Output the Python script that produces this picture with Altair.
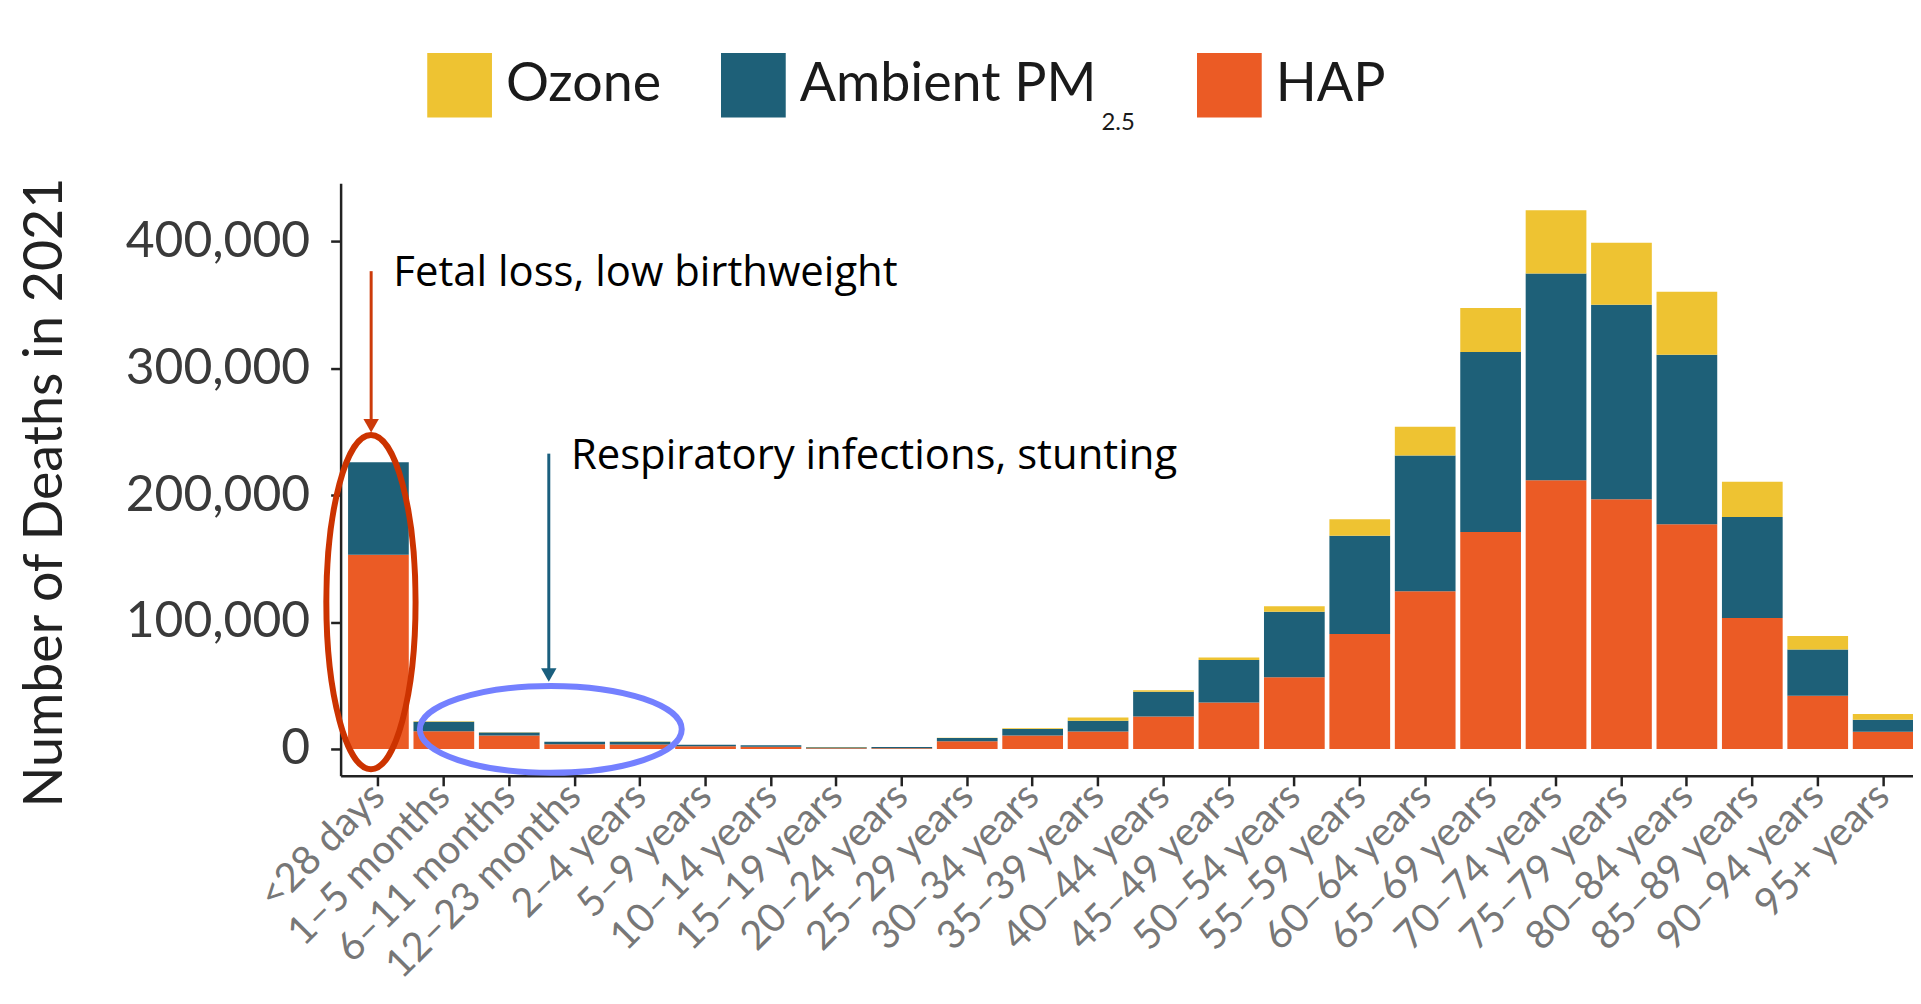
import altair as alt
import pandas as pd

# ---------------- data ----------------
categories = ["<28 days", "1–5 months", "6–11 months", "12–23 months", "2–4 years",
              "5–9 years", "10–14 years", "15–19 years", "20–24 years", "25–29 years",
              "30–34 years", "35–39 years", "40–44 years", "45–49 years", "50–54 years",
              "55–59 years", "60–64 years", "65–69 years", "70–74 years", "75–79 years",
              "80–84 years", "85–89 years", "90–94 years", "95+ years"]

hap = [153000, 14000, 10500, 3600, 3500, 2000, 1800, 600, 600, 6000,
       10500, 13800, 25600, 36600, 56500, 90500, 124300, 171000, 211800, 196700,
       177100, 103100, 41800, 13600]
ambient = [73000, 7500, 2500, 2000, 2200, 1200, 1000, 800, 900, 2500,
           5200, 8400, 19400, 33500, 51500, 77500, 107000, 141800, 162900, 153300,
           133600, 79700, 36600, 9400]
ozone = [0, 300, 100, 100, 100, 100, 100, 100, 100, 300,
         500, 2500, 1300, 2000, 4500, 13000, 22600, 34700, 49800, 48800,
         49500, 27700, 10500, 4500]

series_names = ["Ozone", "Ambient PM", "HAP"]
series_colors = ["#EEC332", "#1E6078", "#EB5B25"]
y_ticks = [0, 100000, 200000, 300000, 400000]

# annotations
ann_texts = ["Fetal loss, low birthweight", "Respiratory infections, stunting"]
ann_cats = ["<28 days", "12–23 months"]
ann_text_y = [364700, 220900]
arrow_top = [376500, 232700]
arrow_end = [256000, 60000]
arrow_head = [254700, 58200]
ellipse_y = [115700, 15400]

rows = []
for i, c in enumerate(categories):
    rows.append({"cat": c, "series": "HAP", "value": hap[i], "ord": 0})
    rows.append({"cat": c, "series": "Ambient PM", "value": ambient[i], "ord": 1})
    rows.append({"cat": c, "series": "Ozone", "value": ozone[i], "ord": 2})
df = pd.DataFrame(rows)


def ellipse_path(a, b):
    k = 0.5523
    return (f"M {a} 0 C {a} {k*b} {k*a} {b} 0 {b} "
            f"C {-k*a} {b} {-a} {k*b} {-a} 0 "
            f"C {-a} {-k*b} {-k*a} {-b} 0 {-b} "
            f"C {k*a} {-b} {a} {-k*b} {a} 0 Z")


TRI_DOWN = "M -1 -0.87 L 1 -0.87 L 0 0.87 Z"

x_scale = alt.Scale(domain=categories, paddingInner=0.072, paddingOuter=0.114, range=[0, 1587])
y_scale = alt.Scale(domain=[-21225, 445725], nice=False, zero=False)

x_enc = alt.X("cat:N", scale=x_scale, sort=categories,
              axis=alt.Axis(title=None, labelAngle=315, labelAlign="right", labelBaseline="middle",
                            labelFont="Lato", labelFontSize=40, labelColor="#777777",
                            labelPadding=4, labelOverlap=False, labelLimit=400,
                            tickSize=10, tickWidth=2.5, tickColor="#222222",
                            domainColor="#222222", domainWidth=2.5, grid=False))
y_enc = alt.Y("value:Q", stack="zero", scale=y_scale,
              axis=alt.Axis(values=y_ticks, format=",d", grid=False, labelLimit=400,
                            labelFont="Lato", labelFontSize=50, labelColor="#3a3a3a",
                            labelPadding=21, tickSize=10, tickWidth=2.5, tickColor="#222222",
                            domainColor="#222222", domainWidth=2.5,
                            title="Number of Deaths in 2021", titleFont="Lato",
                            titleFontSize=54, titleFontWeight="normal", titleColor="#222222",
                            titleAngle=270, titleX=-296, titleY=310, titleLimit=900,
                            titleAlign="center", titleBaseline="middle"))

bars = alt.Chart(df).mark_bar(opacity=1).encode(
    x=x_enc,
    y=y_enc,
    color=alt.Color("series:N", scale=alt.Scale(domain=series_names, range=series_colors),
                    legend=alt.Legend(title=None, orient="none", direction="horizontal",
                                      legendX=87, legendY=-131, padding=0,
                                      symbolType="square", symbolSize=4225,
                                      symbolStrokeWidth=0, symbolOpacity=1,
                                      labelFont="Lato", labelFontSize=54, labelColor="#1a1a1a",
                                      labelOffset=14, columnPadding=60, labelLimit=600,
                                      labelExpr="datum.label == 'Ambient PM' ? 'Ambient PM\u2800' : datum.label")),
    order=alt.Order("ord:Q", sort="ascending"),
)

layers = [bars]

# per-annotation layers
ann_style = [
    {"color": "#CC3A0A", "ell": ellipse_path(0.267, 1), "ell_size": 112627, "ell_color": "#CC3300",
     "arrow_dx": -7.3, "ell_dx": -7.5, "text_dx": 15},
    {"color": "#1A5F7E", "ell": ellipse_path(1, 0.332), "ell_size": 69169, "ell_color": "#7480FF",
     "arrow_dx": -26, "ell_dx": -24, "text_dx": -3.8},
]

for i in range(2):
    st = ann_style[i]
    d = pd.DataFrame({"cat": [ann_cats[i]], "top": [arrow_top[i]], "end": [arrow_end[i]],
                      "head": [arrow_head[i]], "ey": [ellipse_y[i]], "ty": [ann_text_y[i]],
                      "txt": [ann_texts[i]]})
    base = alt.Chart(d)
    layers.append(base.mark_point(shape=st["ell"], size=st["ell_size"], filled=False, opacity=1,
                                  stroke=st["ell_color"], strokeWidth=6, xOffset=st["ell_dx"]).encode(
        x=alt.X("cat:N", scale=x_scale, sort=categories), y=alt.Y("ey:Q", scale=y_scale)))
    layers.append(base.mark_rule(color=st["color"], strokeWidth=3, xOffset=st["arrow_dx"]).encode(
        x=alt.X("cat:N", scale=x_scale, sort=categories), y=alt.Y("top:Q", scale=y_scale), y2="end:Q"))
    layers.append(base.mark_point(shape=TRI_DOWN, size=240, filled=True, opacity=1,
                                  color=st["color"], strokeWidth=0, xOffset=st["arrow_dx"]).encode(
        x=alt.X("cat:N", scale=x_scale, sort=categories), y=alt.Y("head:Q", scale=y_scale)))
    layers.append(base.mark_text(align="left", baseline="alphabetic", font="Open Sans",
                                 fontSize=42, color="#000000", dx=st["text_dx"]).encode(
        x=alt.X("cat:N", scale=x_scale, sort=categories), y=alt.Y("ty:Q", scale=y_scale),
        text="txt:N"))

# subscript for the legend label (PM 2.5)
sub = alt.Chart(pd.DataFrame({"t": ["2.5"]})).mark_text(
    align="left", baseline="alphabetic", font="Lato", fontSize=24, color="#1a1a1a"
).encode(text="t:N", x=alt.value(764), y=alt.value(-54))
layers.append(sub)

chart = alt.layer(*layers).properties(
    width=1579, height=595,
    autosize=alt.AutoSizeParams(type="none"),
    padding={"left": 334, "top": 174, "right": 0, "bottom": 215},
    background="white",
).configure_view(stroke=None)

chart.save("out.html", embed_options={"renderer": "svg", "actions": False})
